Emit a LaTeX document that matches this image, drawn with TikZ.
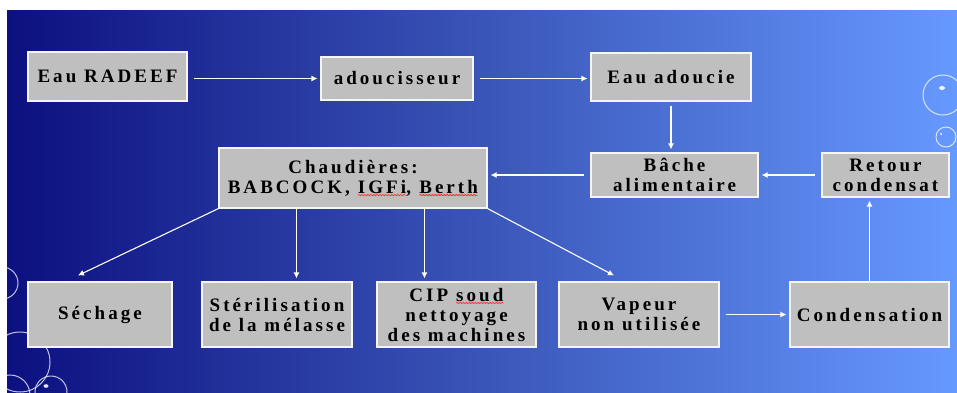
\documentclass[tikz,border=0pt]{standalone}
\usepackage{fontspec}
\newfontfamily\bx{Liberation Serif}[LetterSpace=16]
\usetikzlibrary{arrows.meta,decorations.pathmorphing,calc}
\newcommand{\squig}[1]{\tikz[baseline=(w.base),x=1pt,y=1pt]{\node[inner sep=0pt,outer sep=0pt,minimum width=0pt,minimum height=0pt,draw=none,fill=none](w){#1};\draw[red!85!white,line width=0.6pt,decorate,decoration={snake,amplitude=0.7pt,segment length=3pt}] ([yshift=-2pt]w.base west) -- ([yshift=-2pt]w.base east);}}
\tikzset{
  box/.style={draw=white!92!gray,line width=1.1pt,fill=gray!50,inner sep=0pt,align=center,
    font=\bx\bfseries\fontsize{19}{20}\selectfont,text=black},
  arr/.style={draw=white,line width=1.1pt,-{Latex[length=6pt,width=6pt]},shorten <=6pt,shorten >=3pt},
  bub/.style={draw=white,opacity=0.75,line width=1pt},
  dot/.style={fill=white,opacity=0.9}
}
\begin{document}
\begin{tikzpicture}[x=1pt,y=-1pt]
\useasboundingbox (0,0) rectangle (957,392);
\fill[white] (0,0) rectangle (957,392);
\shade[left color={rgb,255:red,12;green,16;blue,128},right color={rgb,255:red,102;green,153;blue,255},middle color={rgb,255:red,58;green,85;blue,184}] (7,10) rectangle (957,392);
% bubbles
\begin{scope}
\clip (7,10) rectangle (957,392);
\draw[bub] (943,95) circle (20);
\fill[dot] (942,88) ellipse (3 and 2);
\draw[bub] (946,137) circle (10);
\fill[dot] (941,134) circle (1.2);
\draw[bub] (2,283) circle (16);
\draw[bub] (20,362) circle (30);
\draw[bub] (51,392) circle (16);
\fill[dot] (46,386) ellipse (2.5 and 1.8);
\draw[bub] (10,395) circle (20);
\end{scope}
% nodes
\node[box,minimum width=159pt,minimum height=49pt] (radeef) at (107.5,76.5) {Eau RADEEF};
\node[box,minimum width=152pt,minimum height=43pt] (adou) at (397,78.5) {adoucisseur};
\node[box,minimum width=160pt,minimum height=48pt] (eauad) at (671,77) {Eau adoucie};
\node[box,minimum width=167pt,minimum height=44pt] (bache) at (674.5,175) {Bâche\\alimentaire};
\node[box,minimum width=127pt,minimum height=44pt] (retour) at (885.5,175) {Retour\\condensat};
\node[box,minimum width=268pt,minimum height=60pt] (chaud) at (353,178) {Chaudières:\\BABCOCK, \squig{IGFi}, \squig{Berth}};
\node[box,minimum width=144pt,minimum height=65pt] (sech) at (100,314.5) {Séchage};
\node[box,minimum width=150pt,minimum height=65pt] (ster) at (277,314.5) {Stérilisation\\de la mélasse};
\node[box,minimum width=159pt,minimum height=65pt] (cip) at (456.5,314.5) {CIP \squig{soud}\\nettoyage\\des machines};
\node[box,minimum width=160pt,minimum height=65pt] (vap) at (639,314.5) {Vapeur\\non utilisée};
\node[box,minimum width=159pt,minimum height=65pt] (cond) at (869.5,314.5) {Condensation};
% helper coordinates
\coordinate (s1) at ($(chaud.south west)+(78,0)$);
\coordinate (s2) at ($(chaud.south west)+(206,0)$);
\coordinate (t1) at ($(sech.north)+(-22,-6)$);
\coordinate (t4) at ($(vap.north)+(-25,-6)$);
% connectors
\draw[arr] (radeef.east |- adou.west) -- (adou.west);
\draw[arr] (adou.east) -- (adou.east -| eauad.west);
\draw[arr,shorten <=4pt] (eauad.south) -- (eauad.south |- bache.north);
\draw[arr] (retour.west) -- (retour.west -| bache.east);
\draw[arr] (bache.west) -- (bache.west -| chaud.east);
\draw[arr,shorten <=0pt,shorten >=0pt] (chaud.south west) -- (t1);
\draw[arr,shorten <=0pt] (s1) -- (s1 |- ster.north);
\draw[arr,shorten <=0pt] (s2) -- (s2 |- cip.north);
\draw[arr,shorten <=0pt,shorten >=0pt] (chaud.south east) -- (t4);
\draw[arr] (vap.east) -- (cond.west);
\draw[arr,shorten <=0pt] (cond.north) -- (cond.north |- retour.south);
\end{tikzpicture}
\end{document}
